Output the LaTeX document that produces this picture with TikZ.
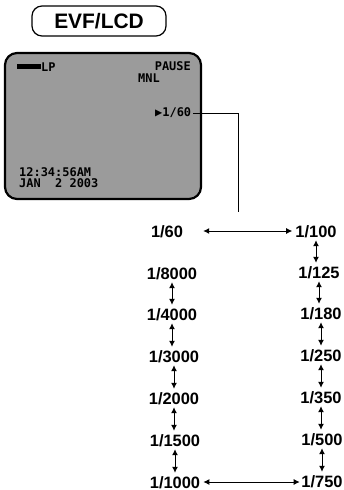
\documentclass[tikz,border=0pt]{standalone}
\usepackage{fontspec}
\setmainfont{Liberation Sans}
\newfontfamily\scrfont{DejaVu Sans Mono}
\usetikzlibrary{arrows.meta}
\definecolor{screengray}{RGB}{155,155,155}
\begin{document}
\begin{tikzpicture}[x=1bp,y=-1bp,
  lbl/.style={font=\bfseries\fontsize{16.5}{18}\selectfont, inner sep=0pt, text height=12bp, text depth=0pt},
  scr/.style={font=\scrfont\bfseries\fontsize{12}{12}\selectfont, inner sep=0pt, anchor=west},
  dbl/.style={{Latex[length=6bp,width=6bp]}-{Latex[length=6bp,width=6bp]}, line width=1bp},
  vdbl/.style={dbl, shorten <=3bp, shorten >=3bp},
  ]
\useasboundingbox (0,0) rectangle (343,490);
% title
\node[draw, rounded corners=10bp, line width=1.2bp, minimum width=134bp, minimum height=30bp,
  font=\bfseries\fontsize{21}{24}\selectfont, inner sep=0pt] (title) at (99,21) {EVF/LCD};
% screen
\node[draw, fill=screengray, rounded corners=12bp, line width=2.2bp,
  minimum width=196bp, minimum height=146bp] (screen) at (103,126) {};
\fill (17,64.5) rectangle (41,69.5);
\node[scr] (lp) at (41,67) {LP};
\node[scr, anchor=east] (pause) at (191,66) {PAUSE};
\node[scr] (mnl) at (138,78) {MNL};
\node[scr] (sh) at (155,113) {▶1/60};
\node[scr] (time) at (19,172) {12:34:56AM};
\node[scr] (date) at (19,183) {JAN\ \ 2\ 2003};
% leader line
\coordinate (lend) at (238,212);
\draw[line width=0.8bp, shorten <=2bp] (sh.east) -| (lend);
% labels left
\node[lbl] (n60) at (167,231) {1/60};
\node[lbl] (n8000) at (172,273) {1/8000};
\node[lbl] (n4000) at (172,314) {1/4000};
\node[lbl] (n3000) at (174,356) {1/3000};
\node[lbl] (n2000) at (174,398) {1/2000};
\node[lbl] (n1500) at (175,440) {1/1500};
\node[lbl] (n1000) at (175,482) {1/1000};
% labels right
\node[lbl] (n100) at (316,231) {1/100};
\node[lbl] (n125) at (319,272) {1/125};
\node[lbl] (n180) at (321,313) {1/180};
\node[lbl] (n250) at (321,355) {1/250};
\node[lbl] (n350) at (321,397) {1/350};
\node[lbl] (n500) at (322,439) {1/500};
\node[lbl] (n750) at (322,481) {1/750};
% horizontal arrows
\draw[dbl, shorten <=20bp, shorten >=3bp] (n60.east) -- (n100.west);
\draw[dbl, shorten <=3bp, shorten >=1.5bp] (n1000.east) -- (n1000.east -| n750.west);
% vertical arrows left
\draw[vdbl] (n8000.south) -- (n8000.south |- n4000.north);
\draw[vdbl] (n4000.south) -- (n4000.south |- n3000.north);
\draw[vdbl] (n3000.south) -- (n3000.south |- n2000.north);
\draw[vdbl] (n2000.south) -- (n2000.south |- n1500.north);
\draw[vdbl] (n1500.south) -- (n1500.south |- n1000.north);
% vertical arrows right
\draw[vdbl] (n100.south) -- (n100.south |- n125.north);
\draw[vdbl] (n125.south) -- (n125.south |- n180.north);
\draw[vdbl] (n180.south) -- (n180.south |- n250.north);
\draw[vdbl] (n250.south) -- (n250.south |- n350.north);
\draw[vdbl] (n350.south) -- (n350.south |- n500.north);
\draw[vdbl] (n500.south) -- (n500.south |- n750.north);
\end{tikzpicture}
\end{document}
